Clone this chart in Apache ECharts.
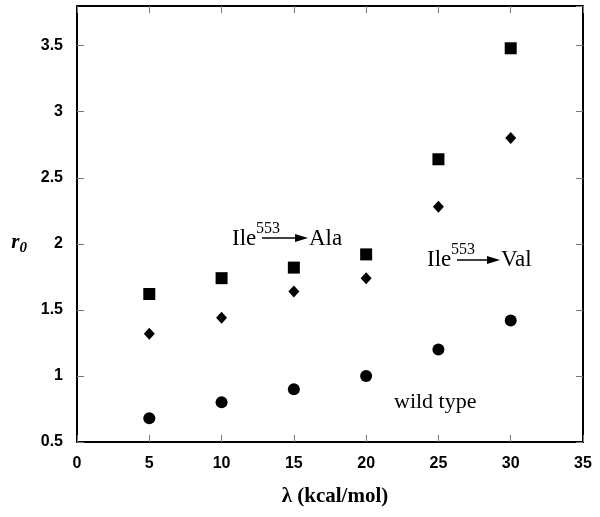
<!DOCTYPE html>
<html><head><meta charset="utf-8">
<script src="https://cdn.jsdelivr.net/npm/echarts@6/dist/echarts.min.js"></script>
<style>html,body{margin:0;padding:0;background:#fff}#c{width:600px;height:517px}</style>
</head><body><div id="c"></div>
<script>
const lambdaVals = [5, 10, 15, 20, 25, 30];
const valSeries = [1.62, 1.74, 1.82, 1.92, 2.64, 3.48];
const alaSeries = [1.32, 1.44, 1.64, 1.74, 2.28, 2.80];
const wildSeries = [0.68, 0.80, 0.90, 1.00, 1.20, 1.42];
const xMin = 0, xMax = 35, xInterval = 5;
const yMin = 0.5, yMax = 3.8, yInterval = 0.5;

const chart = echarts.init(document.getElementById('c'));
const pts = ys => lambdaVals.map((x, i) => [x, ys[i]]);
const lab = () => ({fontFamily:'Liberation Sans, Arial', fontWeight:'bold', fontSize:16, color:'#000', margin:14});
const tick = () => ({show:true, inside:true, length:7, lineStyle:{color:'#777', width:1}});
const line = () => ({show:true, onZero:false, lineStyle:{color:'#000', width:2}});
const serif = 'Liberation Serif, Times New Roman, serif';
const mk = () => ({color:'#000', opacity:1});

chart.setOption({
  animation:false,
  grid:{left:77, top:6, right:17, bottom:75},
  xAxis:[
    {type:'value', min:xMin, max:xMax, interval:xInterval, position:'bottom',
     axisLine:line(), axisTick:tick(), splitLine:{show:false},
     axisLabel:lab(),
     name:'λ (kcal/mol)', nameLocation:'middle', nameGap:44,
     nameTextStyle:{fontFamily:serif, fontWeight:'bold', fontSize:21, color:'#000', padding:[0,0,0,10]}},
    {type:'value', min:xMin, max:xMax, interval:xInterval, position:'top',
     axisLine:line(), axisTick:tick(), splitLine:{show:false}, axisLabel:{show:false}}
  ],
  yAxis:[
    {type:'value', min:yMin, max:yMax, interval:yInterval, position:'left',
     axisLine:line(), axisTick:tick(), splitLine:{show:false},
     axisLabel:Object.assign({showMaxLabel:false}, lab()),
     name:'{r|r}{s|0}', nameLocation:'middle', nameGap:50, nameRotate:0,
     nameTextStyle:{padding:[38,0,0,0], rich:{
       r:{fontFamily:serif, fontStyle:'italic', fontWeight:'bold', fontSize:21, color:'#000'},
       s:{fontFamily:serif, fontStyle:'italic', fontWeight:'bold', fontSize:15, color:'#000', padding:[10,0,0,0]}}}},
    {type:'value', min:yMin, max:yMax, interval:yInterval, position:'right',
     axisLine:line(), axisTick:tick(), splitLine:{show:false}, axisLabel:{show:false}}
  ],
  series:[
    {type:'scatter', data:pts(valSeries), symbol:'rect', symbolSize:12, itemStyle:mk()},
    {type:'scatter', data:pts(alaSeries), symbol:'diamond', symbolSize:[11,12], itemStyle:mk()},
    {type:'scatter', data:pts(wildSeries), symbol:'circle', symbolSize:12, itemStyle:mk()}
  ],
  graphic:[
    {type:'text', left:232, top:227, style:{text:'Ile', font:'23px ' + serif, fill:'#000'}},
    {type:'text', left:256, top:221, style:{text:'553', font:'16px ' + serif, fill:'#000'}},
    {type:'line', shape:{x1:262, y1:238, x2:298, y2:238}, style:{stroke:'#000', lineWidth:1.5}},
    {type:'polygon', shape:{points:[[308,238],[295,234],[295,242]]}, style:{fill:'#000'}},
    {type:'text', left:309, top:227, style:{text:'Ala', font:'23px ' + serif, fill:'#000'}},

    {type:'text', left:427, top:248, style:{text:'Ile', font:'23px ' + serif, fill:'#000'}},
    {type:'text', left:451, top:242, style:{text:'553', font:'16px ' + serif, fill:'#000'}},
    {type:'line', shape:{x1:457, y1:260, x2:490, y2:260}, style:{stroke:'#000', lineWidth:1.5}},
    {type:'polygon', shape:{points:[[500,260],[487,256],[487,264]]}, style:{fill:'#000'}},
    {type:'text', left:501, top:248, style:{text:'Val', font:'23px ' + serif, fill:'#000'}},

    {type:'text', left:394, top:391, style:{text:'wild type', font:'22px ' + serif, fill:'#000'}}
  ]
});
</script></body></html>
